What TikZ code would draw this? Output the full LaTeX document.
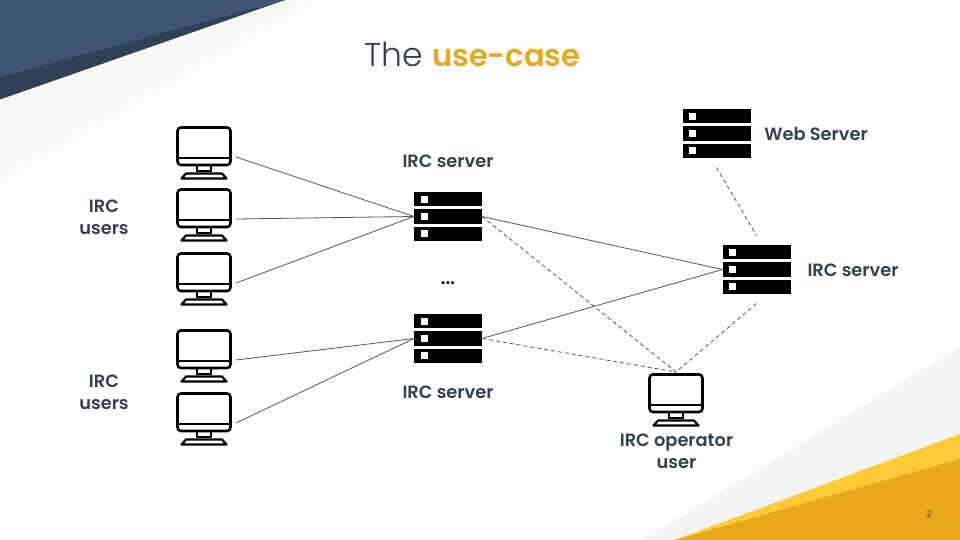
\documentclass[tikz,border=0pt]{standalone}
\usepackage{fontspec}
\setmainfont{Poppins}
\newfontfamily\titlefont{Poppins Light}
\newfontfamily\boldlabel{Poppins SemiBold}
\usetikzlibrary{positioning}
\definecolor{navy}{HTML}{2F4059}
\definecolor{navylight}{HTML}{3F5472}
\definecolor{navydark}{HTML}{2F4159}
\definecolor{amber}{HTML}{E9A81C}
\definecolor{sun}{HTML}{FFCA38}
\definecolor{paleleft}{HTML}{F9F9F7}
\definecolor{paleright}{HTML}{F4F4F2}
\definecolor{wire}{HTML}{555555}
\tikzset{
  hostbox/.style={minimum width=64pt, minimum height=64pt, inner sep=0pt, outer sep=0pt},
  rackbox/.style={minimum width=68pt, minimum height=68pt, inner sep=0pt, outer sep=0pt},
  link/.style={draw=wire, line width=0.8pt},
  dashlink/.style={draw=wire, line width=0.8pt, dash pattern=on 4pt off 3pt},
  tag/.style={font=\boldlabel\fontsize{17.8}{22}\selectfont, text=navy, align=center, inner sep=0pt},
  pc/.pic={
    \draw[line width=2.6pt, rounded corners=3.5pt] (-26.5,-29.5) rectangle (26.5,8);
    \draw[line width=2.6pt] (-26.5,1) -- (26.5,1);
    \draw[line width=2pt] (-7,8) rectangle (7,14);
    \draw[line width=2.2pt, line join=round] (-22.5,21.5) -- (-18,16.5) -- (18,16.5) -- (22.5,21.5) -- cycle;
  },
  rack/.pic={
    \foreach \y in {-17.25,0,17.25} {
      \fill[black] (-34,\y-7.1) rectangle (34,\y+7.1);
      \fill[white] (-27.5,\y-3.5) rectangle (-20.5,\y+3.5);
    }
  }
}
\begin{document}
\begin{tikzpicture}[x=1pt, y=-1pt]
  \useasboundingbox (0,0) rectangle (960,540);
  \fill[white] (0,0) rectangle (960,540);
  % corners
  \fill[paleleft] (0,0) -- (315,0) -- (0,180) -- cycle;
  \fill[navydark] (0,0) -- (285,0) -- (0,99.5) -- cycle;
  \fill[navylight] (0,0) -- (285,0) -- (0,77) -- cycle;
  \fill[paleright] (960,347) -- (960,540) -- (643,540) -- cycle;
  \fill[sun] (960,434) -- (960,540) -- (675,540) -- cycle;
  \fill[amber] (960,459) -- (960,540) -- (675,540) -- cycle;
  \node[font=\fontsize{9}{11}\selectfont, text=navy, inner sep=0pt] (pagenum) at (929,514) {2};
  % title
  \node[font=\titlefont\fontsize{33}{36}\selectfont, text=navy, inner sep=0pt, anchor=base west] (titleA) at (364,67) {The};
  \node[font=\boldlabel\fontsize{30.6}{36}\selectfont, text=amber, inner sep=0pt, anchor=base west] (titleB) at (432,67) {use-case};
  % hosts
  \foreach \name/\py in {pcA/157, pcB/219, pcC/283, pcD/360, pcE/423} {
    \node[hostbox] (\name) at (204,\py) {};
    \pic at (\name) {pc};
  }
  \node[hostbox] (pcOp) at (676,404) {};
  \pic at (pcOp) {pc};
  % servers
  \node[rackbox] (srvA) at (448,216.5) {};
  \pic at (srvA) {rack};
  \node[rackbox] (srvB) at (448,338.5) {};
  \pic at (srvB) {rack};
  \node[rackbox] (srvC) at (756.5,269.5) {};
  \pic at (srvC) {rack};
  \node[rackbox] (srvWeb) at (716.5,133.5) {};
  \pic at (srvWeb) {rack};
  % labels
  \node[tag] (usersA) at (104,217) {IRC\\users};
  \node[tag] (usersB) at (104,392) {IRC\\users};
  \node[tag] (labelA) at (448,161) {IRC server};
  \node[tag] (labelB) at (448,392) {IRC server};
  \node[tag] (labelC) at (853,270) {IRC server};
  \node[tag] (labelWeb) at (816,134) {Web Server};
  \node[tag] (labelOp) at (676.5,451.5) {IRC operator\\user};
  \node[font=\boldlabel\fontsize{18}{20}\selectfont, inner sep=0pt] (dots) at (448,283.5) {...};
  % connectors
  \foreach \name in {pcA, pcB, pcC}
    \draw[link] (\name.east) -- (srvA.west);
  \foreach \name in {pcD, pcE}
    \draw[link] (\name.east) -- (srvB.west);
  \draw[link] (srvA.east) -- (srvC.west);
  \draw[link] (srvB.east) -- (srvC.west);
  \draw[dashlink] (srvA.east) -- (pcOp.north);
  \draw[dashlink] (srvB.east) -- (pcOp.north);
  \draw[dashlink] (srvC.south) -- (pcOp.north);
  \draw[dashlink] (srvWeb.south) -- (srvC.north);
\end{tikzpicture}
\end{document}
